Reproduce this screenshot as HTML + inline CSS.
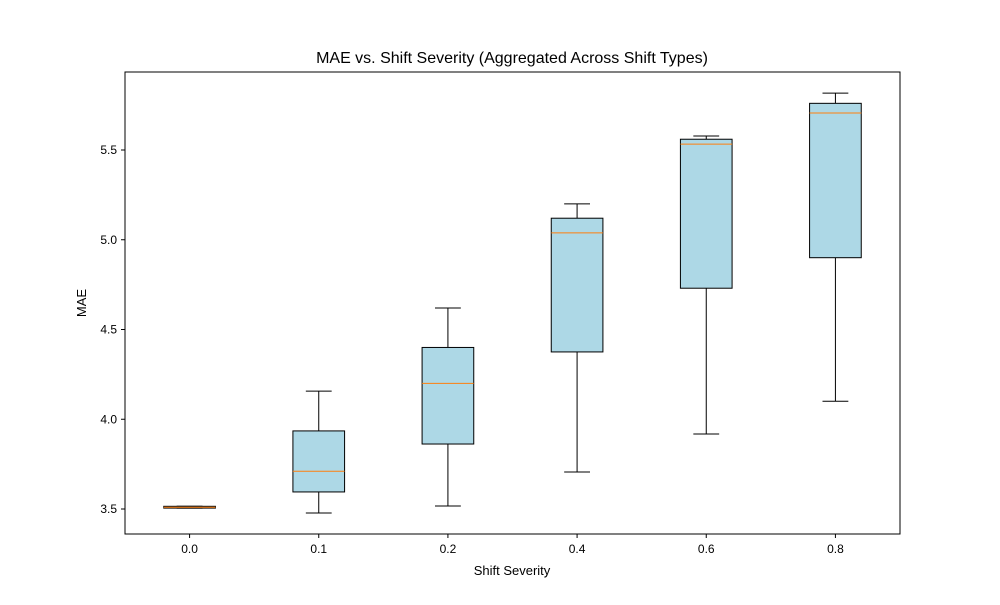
<!DOCTYPE html>
<html><head><meta charset="utf-8"><style>
body{margin:0;background:#fff;}
text{font-family:"Liberation Sans","DejaVu Sans",sans-serif;fill:#000;}
</style></head><body>
<svg id="chart" width="1000" height="600" xmlns="http://www.w3.org/2000/svg">
<rect width="1000" height="600" fill="#fff"/>
<text x="512" y="63" font-size="16" text-anchor="middle">MAE vs. Shift Severity (Aggregated Across Shift Types)</text>
<text x="512" y="575" font-size="13" text-anchor="middle">Shift Severity</text>
<text x="0" y="0" font-size="13" text-anchor="middle" transform="translate(86,303) rotate(-90)">MAE</text>
<g id="marks"></g>
<rect x="125" y="72" width="775" height="462" fill="none" stroke="#000" stroke-width="1"/>
</svg>
<script>
const categories = ["0.0","0.1","0.2","0.4","0.6","0.8"];
const mins    = [3.505, 3.478, 3.517, 3.706, 3.918, 4.10];
const q1s     = [3.505, 3.595, 3.862, 4.375, 4.73, 4.90];
const medians = [3.51, 3.71, 4.20, 5.038, 5.533, 5.706];
const q3s     = [3.515, 3.935, 4.40, 5.12, 5.56, 5.76];
const maxs    = [3.515, 4.157, 4.62, 5.20, 5.578, 5.817];
const yTicks  = [3.5, 4.0, 4.5, 5.0, 5.5];

const svg = document.getElementById('chart');
const g = document.getElementById('marks');
const NS = 'http://www.w3.org/2000/svg';
const L=125, R=900, T=72, B=534;
const xScale = i => L + (i + 0.5) / categories.length * (R - L);
const yScale = v => 509 - (v - 3.5) * 179.5;
const halfW = 0.2 * (R - L) / categories.length;

function mk(tag, attrs){ const e=document.createElementNS(NS,tag); for(const k in attrs) e.setAttribute(k,attrs[k]); return e; }

yTicks.forEach(t=>{
  const y=yScale(t);
  const tk=mk('line',{x1:L-4,x2:L,y1:y,y2:y,stroke:'#000'});
  
  
  g.appendChild(tk);
  const lb=mk('text',{x:L-8,y:y+4,'font-size':12,'text-anchor':'end'});
  
  
  lb.textContent=t.toFixed(1);
  g.appendChild(lb);
});

categories.forEach((c,i)=>{
  const x=xScale(i);
  const tk=mk('line',{x1:x,x2:x,y1:B,y2:B+4,stroke:'#000'});
  
  
  g.appendChild(tk);
  const lb=mk('text',{x:x,y:B+19,'font-size':12,'text-anchor':'middle'});
  
  
  lb.textContent=c;
  g.appendChild(lb);

  const grp=mk('g',{});
  
  
  const yMin=yScale(mins[i]), yQ1=yScale(q1s[i]), yMed=yScale(medians[i]), yQ3=yScale(q3s[i]), yMax=yScale(maxs[i]);
  grp.appendChild(mk('line',{x1:x,x2:x,y1:yQ1,y2:yMin,stroke:'#000'}));
  grp.appendChild(mk('line',{x1:x,x2:x,y1:yQ3,y2:yMax,stroke:'#000'}));
  grp.appendChild(mk('line',{x1:x-halfW/2,x2:x+halfW/2,y1:yMin,y2:yMin,stroke:'#000'}));
  grp.appendChild(mk('line',{x1:x-halfW/2,x2:x+halfW/2,y1:yMax,y2:yMax,stroke:'#000'}));
  grp.appendChild(mk('rect',{x:x-halfW,y:yQ3,width:2*halfW,height:Math.max(yQ1-yQ3,1),fill:'#add8e6',stroke:'#000'}));
  grp.appendChild(mk('line',{x1:x-halfW,x2:x+halfW,y1:yMed,y2:yMed,stroke:'#ff7f0e','stroke-width':1}));
  g.appendChild(grp);
});
</script>
</body></html>
